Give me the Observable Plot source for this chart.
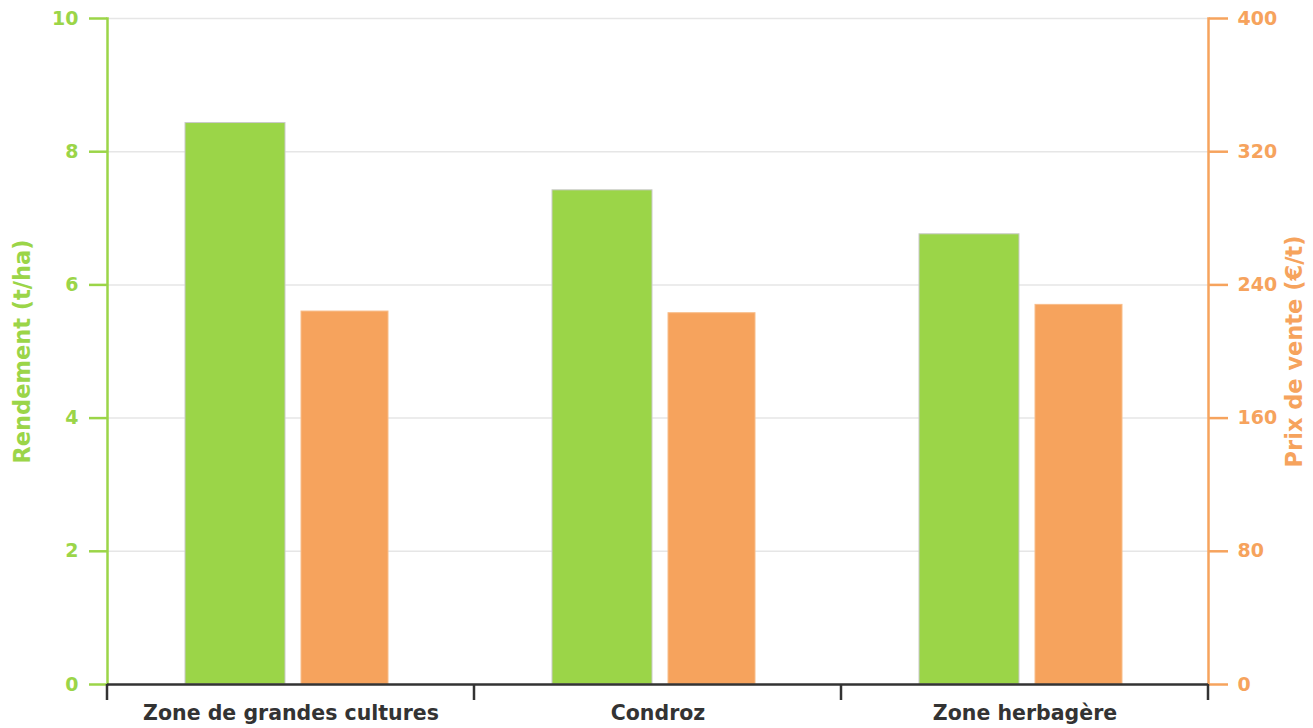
<!DOCTYPE html>
<html><head><meta charset="utf-8">
<script src="https://cdn.jsdelivr.net/npm/d3@7"></script>
<script src="https://cdn.jsdelivr.net/npm/@observablehq/plot@0.6"></script>
<style>body{margin:0;background:#fff} svg{display:block}</style>
</head><body><div id="chart"></div>
<script>
const categories = ["Zone de grandes cultures", "Condroz", "Zone herbagère"];
const rendement = [8.43, 7.42, 6.76];
const prix = [224, 223, 228];
const rendementTicks = [0, 2, 4, 6, 8, 10];
const prixTicks = [0, 80, 160, 240, 320, 400];
const rendementMax = 10, prixMax = 400;
const ratio = prixMax / rendementMax;

const green = "#9bd548", orange = "#f6a35d", dark = "#333333";
const data = categories.map((c, i) => ({zone: c, rendement: rendement[i], prix: prix[i]}));

function boundaryTicks(index, scales, values, dims) {
  const x = scales.x;
  const xs = categories.map(c => x(c)).concat([x(categories[categories.length - 1]) + x.bandwidth()]);
  const y0 = dims.height - dims.marginBottom;
  const g = d3.create("svg:g");
  g.selectAll("line").data(xs).join("line")
    .attr("x1", d => d).attr("x2", d => d)
    .attr("y1", y0).attr("y2", y0 + 16)
    .attr("stroke", dark).attr("stroke-width", 2.5);
  return g.node();
}

const chart = Plot.plot({
  width: 1313,
  height: 728,
  marginLeft: 107,
  marginRight: 105,
  marginTop: 18,
  marginBottom: 44,
  style: {fontFamily: "DejaVu Sans", fontSize: "19px", fontWeight: "bold", background: "#fff"},
  x: {type: "band", domain: categories, padding: 0},
  y: {domain: [0, rendementMax]},
  marks: [
    Plot.gridY(rendementTicks, {stroke: "#e6e6e6", strokeOpacity: 1, strokeWidth: 1.5}),
    Plot.barY(data, {x: "zone", y: "rendement", fill: green, stroke: "#c9c9c9", strokeWidth: 1, insetLeft: 78, insetRight: 189}),
    Plot.barY(data, {x: "zone", y: d => d.prix / ratio, fill: orange, stroke: "#f8bd8a", strokeWidth: 1, insetLeft: 194, insetRight: 86}),
    Plot.axisY(rendementTicks, {anchor: "left", label: null, tickSize: 18, tickPadding: 11, tickFormat: d3.format("d"), stroke: green, fill: green, strokeWidth: 2.5}),
    Plot.axisY(prixTicks.map(v => v / ratio), {anchor: "right", label: null, tickSize: 19, tickPadding: 10, tickFormat: d => Math.round(d * ratio), stroke: orange, fill: orange, strokeWidth: 2.5}),
    Plot.frame({anchor: "left", stroke: green, strokeWidth: 2.5}),
    Plot.frame({anchor: "right", stroke: orange, strokeWidth: 2.5}),
    Plot.axisX({anchor: "bottom", label: null, tickSize: 0, tickPadding: 21, fill: dark, fontSize: 20.5}),
    Plot.ruleY([0], {stroke: dark, strokeWidth: 2.5}),
    boundaryTicks,
    Plot.text(["Rendement (t/ha)"], {frameAnchor: "left", rotate: -90, dx: -85, textAnchor: "middle", lineAnchor: "middle", fill: green, fontSize: 22.5}),
    Plot.text(["Prix de vente (€/t)"], {frameAnchor: "right", rotate: -90, dx: 86, textAnchor: "middle", lineAnchor: "middle", fill: orange, fontSize: 22.5})
  ]
});
document.getElementById("chart").append(chart);
</script>
</body></html>
